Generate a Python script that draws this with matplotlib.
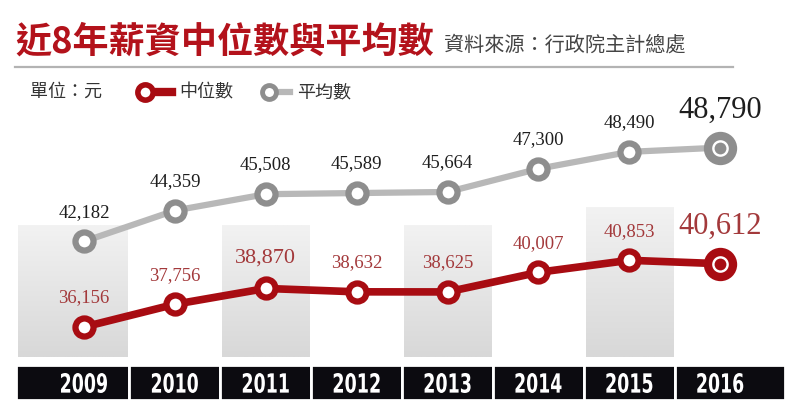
import matplotlib
matplotlib.use("Agg")
import matplotlib.pyplot as plt
import matplotlib.transforms as mtransforms
from matplotlib.patches import Rectangle, PathPatch
from matplotlib.textpath import TextPath
from matplotlib.font_manager import FontProperties
from matplotlib.colors import LinearSegmentedColormap
import numpy as np

plt.rcParams['font.family'] = ['Noto Sans CJK TC', 'DejaVu Sans']

# data
years = ['2009', '2010', '2011', '2012', '2013', '2014', '2015', '2016']
median = [36156, 37756, 38870, 38632, 38625, 40007, 40853, 40612]
mean = [42182, 44359, 45508, 45589, 45664, 47300, 48490, 48790]
median_labels = ['36,156', '37,756', '38,870', '38,632', '38,625', '40,007', '40,853', '40,612']
mean_labels = ['42,182', '44,359', '45,508', '45,589', '45,664', '47,300', '48,490', '48,790']
shaded_years = ['2009', '2011', '2013', '2015']

title = '近8年薪資中位數與平均數'
source = '資料來源：行政院主計總處'
unit = '單位：元'
name_median = '中位數'
name_mean = '平均數'

RED = '#a80c12'
RED_TXT = '#a3393b'
GRAY_LINE = '#b8b8b8'
GRAY_EDGE = '#8e8e8e'
W, H = 800, 408

fig = plt.figure(figsize=(W / 100, H / 100), dpi=100)
ax = fig.add_axes([0, 0, 1, 1])
ax.set_axis_off()

x = np.arange(len(years))


def fx(p):
    return p / W


def fy(p):
    return 1 - p / H


blend = mtransforms.blended_transform_factory(ax.transData, ax.transAxes)

# cell edges in data units
left = x - 0.5
right = x + 0.5
left[0] = -0.748
right[-1] = 7.712

# gray background columns with a soft gradient
grad = np.linspace(0, 1, 100).reshape(-1, 1)
cmap = LinearSegmentedColormap.from_list('g', ['#f2f2f2', '#d8d8d8'])
for i, yr in enumerate(years):
    if yr in shaded_years:
        top = 207 if yr == '2015' else 225
        ax.imshow(grad, cmap=cmap, aspect='auto',
                  extent=[left[i] + 0.02, right[i] - 0.02, fy(357), fy(top)],
                  origin='upper', transform=blend, zorder=0)

ax.set_xlim(-0.924, 7.877)
ax.set_ylim(30450, 59185)

# black year bar, condensed bold year numbers
fp = FontProperties(family='DejaVu Sans', weight='bold')
for i, yr in enumerate(years):
    ax.add_patch(Rectangle((left[i], fy(400)), right[i] - left[i], fy(365) - fy(400),
                           transform=blend, facecolor='#0c0b10', edgecolor='white',
                           lw=2, zorder=1))
    tp = TextPath((0, 0), yr, size=1, prop=fp)
    ext = tp.get_extents()
    cx = ax.transData.transform((x[i], 40000))[0]
    tr = (mtransforms.Affine2D()
          .translate(-(ext.x0 + ext.x1) / 2, -(ext.y0 + ext.y1) / 2)
          .scale(46 / ext.width, 20 / ext.height)
          .translate(cx, H - 383))
    ax.add_patch(PathPatch(tp, transform=tr, facecolor='white', edgecolor='none',
                           zorder=2, clip_on=False))

# lines
ax.plot(x, mean, color=GRAY_LINE, lw=4.5, solid_capstyle='round', zorder=3)
ax.plot(x[:-1], mean[:-1], 'o', ms=13, mew=4.5, mfc='white', mec=GRAY_EDGE, zorder=4)
ax.plot(x[-1], mean[-1], 'o', ms=18, mew=6, mfc='white', mec=GRAY_EDGE, zorder=4)
ax.plot(x[-1], mean[-1], 'o', ms=8.5, mew=0, mfc=GRAY_EDGE, zorder=5)

ax.plot(x, median, color=RED, lw=5.5, solid_capstyle='round', zorder=3)
ax.plot(x[:-1], median[:-1], 'o', ms=13, mew=4.5, mfc='white', mec=RED, zorder=4)
ax.plot(x[-1], median[-1], 'o', ms=18, mew=6, mfc='white', mec=RED, zorder=4)
ax.plot(x[-1], median[-1], 'o', ms=8.5, mew=0, mfc=RED, zorder=5)

# value labels
serif = ['Liberation Serif', 'DejaVu Serif']
for i in range(len(years)):
    big = i == len(years) - 1
    ms_ = 22 if big else 13.5
    off = 27 if big else 21
    ax.annotate(mean_labels[i], (x[i], mean[i]), xytext=(0, off), textcoords='offset points',
                ha='center', va='center', fontsize=ms_, color='#1e1e1e', family=serif, zorder=6)
    md = 22 if big else (16 if i == 2 else 13.5)
    off = 27 if big else (22 if i == 2 else 21)
    ax.annotate(median_labels[i], (x[i], median[i]), xytext=(0, off), textcoords='offset points',
                ha='center', va='center', fontsize=md, color=RED_TXT, family=serif, zorder=6)

# header
fig.text(fx(15), fy(42), title, ha='left', va='center', fontsize=26, fontweight='bold',
         color='#b3121b')
fig.text(fx(444), fy(45), source, ha='left', va='center', fontsize=14.5, color='#454545')
ax.plot([fx(15), fx(733)], [fy(67), fy(67)], transform=ax.transAxes, color='#b3b3b3',
        lw=1.6, clip_on=False)

# legend
fig.text(fx(30), fy(92), unit, ha='left', va='center', fontsize=13, color='#333333')
ax.plot([fx(145), fx(172)], [fy(92), fy(92)], transform=ax.transAxes, color=RED, lw=6,
        clip_on=False)
ax.plot(fx(145), fy(92), 'o', transform=ax.transAxes, ms=11, mew=4, mfc='white', mec=RED,
        clip_on=False)
fig.text(fx(179), fy(92), name_median, ha='left', va='center', fontsize=13, color='#333333')
ax.plot([fx(269), fx(290)], [fy(92), fy(92)], transform=ax.transAxes, color=GRAY_LINE, lw=4.5,
        clip_on=False)
ax.plot(fx(269), fy(92), 'o', transform=ax.transAxes, ms=10, mew=3.5, mfc='white',
        mec=GRAY_EDGE, clip_on=False)
fig.text(fx(297), fy(92), name_mean, ha='left', va='center', fontsize=13, color='#333333')

fig.savefig('out.png', dpi=100, facecolor='white')
